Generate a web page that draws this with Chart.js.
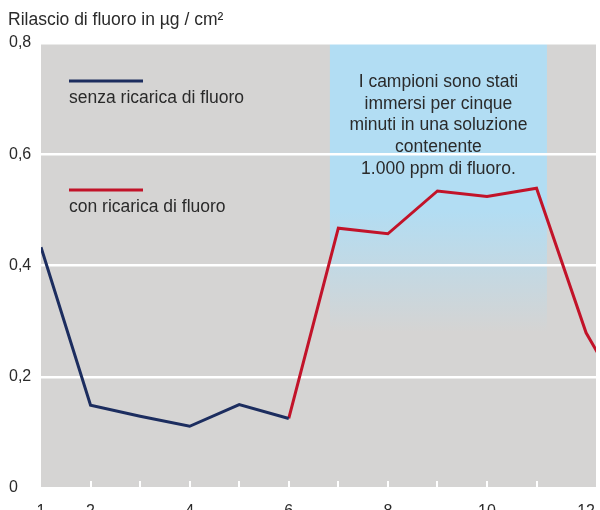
<!DOCTYPE html>
<html>
<head>
<meta charset="utf-8">
<script src="https://cdn.jsdelivr.net/npm/chart.js@4.4.0/dist/chart.umd.min.js"></script>
<style>
html,body{margin:0;padding:0;background:#fff;}
#wrap{width:600px;height:510px;position:relative;}
</style>
</head>
<body>
<div id="wrap"><canvas id="c" width="600" height="510"></canvas></div>
<script>
const titleText = 'Rilascio di fluoro in µg / cm²';
const seriesNames = ['senza ricarica di fluoro', 'con ricarica di fluoro'];
const xTickLabels = [1, 2, 4, 6, 8, 10, 12];
const xMinorTicks = [2, 3, 4, 5, 6, 7, 8, 9, 10, 11];
const senzaX = [1, 2, 3, 4, 5, 6];
const senzaY = [0.433, 0.149, 0.129, 0.111, 0.150, 0.125];
const conX = [6, 7, 8, 9, 10, 11, 12, 13];
const conY = [0.125, 0.467, 0.457, 0.534, 0.524, 0.539, 0.279, 0.125];
const noteLines = ['I campioni sono stati', 'immersi per cinque', 'minuti in una soluzione', 'contenente', '1.000 ppm di fluoro.'];
const shadeRange = [6.83, 11.21];

const FONT = "'Liberation Sans', Arial, sans-serif";
const GRAY = '#d5d4d3';
const BLUE = '#b2ddf3';
const NAVY = '#1c2d5f';
const RED = '#c21329';
const TXT = '#2a2a2a';

const decor = {
  id: 'decor',
  beforeDraw(chart) {
    const {ctx, chartArea: a, scales: {x, y}} = chart;
    ctx.save();
    ctx.fillStyle = GRAY;
    ctx.fillRect(a.left, a.top, a.right - a.left, a.bottom - a.top);
    const x0 = x.getPixelForValue(shadeRange[0]);
    const x1 = x.getPixelForValue(shadeRange[1]);
    const yTop = a.top;
    const yBot = y.getPixelForValue(0.28);
    const g = ctx.createLinearGradient(0, yTop, 0, yBot);
    const fadeStart = (y.getPixelForValue(0.5) - yTop) / (yBot - yTop);
    g.addColorStop(0, BLUE);
    g.addColorStop(fadeStart, BLUE);
    g.addColorStop(1, GRAY);
    ctx.fillStyle = g;
    ctx.fillRect(x0, yTop, x1 - x0, yBot - yTop);
    ctx.restore();
  },
  beforeDatasetsDraw(chart) {
    const {ctx, chartArea: a, scales: {x}} = chart;
    ctx.save();
    ctx.strokeStyle = '#ffffff';
    ctx.lineWidth = 2;
    xMinorTicks.forEach(v => {
      const px = Math.round(x.getPixelForValue(v));
      ctx.beginPath();
      ctx.moveTo(px, a.bottom);
      ctx.lineTo(px, a.bottom - 7);
      ctx.stroke();
    });
    ctx.fillStyle = TXT;
    ctx.font = '17.5px ' + FONT;
    ctx.textAlign = 'center';
    ctx.textBaseline = 'middle';
    const cx = (x.getPixelForValue(shadeRange[0]) + x.getPixelForValue(shadeRange[1])) / 2;
    noteLines.forEach((l, i) => ctx.fillText(l, cx, 82 + i * 21.8));
    ctx.restore();
  },
  afterDraw(chart) {
    const {ctx} = chart;
    ctx.save();
    ctx.fillStyle = TXT;
    ctx.font = '17.5px ' + FONT;
    ctx.textAlign = 'left';
    ctx.textBaseline = 'middle';
    ctx.fillText(titleText, 8, 20);
    const items = [[NAVY, 81, 98], [RED, 190, 207]];
    items.forEach((it, i) => {
      ctx.strokeStyle = it[0];
      ctx.lineWidth = 3;
      ctx.beginPath();
      ctx.moveTo(69, it[1]);
      ctx.lineTo(143, it[1]);
      ctx.stroke();
      ctx.fillStyle = TXT;
      ctx.fillText(seriesNames[i], 69, it[2]);
    });
    ctx.restore();
  }
};

new Chart(document.getElementById('c'), {
  type: 'line',
  data: {
    datasets: [
      {label: seriesNames[0], data: senzaX.map((v, i) => ({x: v, y: senzaY[i]})), borderColor: NAVY, borderWidth: 3, pointRadius: 0, tension: 0},
      {label: seriesNames[1], data: conX.map((v, i) => ({x: v, y: conY[i]})), borderColor: RED, borderWidth: 3, pointRadius: 0, tension: 0}
    ]
  },
  options: {
    responsive: false,
    animation: false,
    layout: {padding: {top: 43, left: 9, right: 4, bottom: 0}},
    plugins: {legend: {display: false}, tooltip: {enabled: false}},
    scales: {
      x: {
        type: 'linear', min: 1, max: 12.2,
        grid: {display: false},
        border: {display: false},
        afterBuildTicks: s => { s.ticks = xTickLabels.map(v => ({value: v})); },
        afterFit: s => { s.height = 22; s.paddingLeft = 0; s.paddingRight = 0; },
        ticks: {font: {family: FONT, size: 16}, color: TXT, padding: 6, maxRotation: 0, autoSkip: false}
      },
      y: {
        min: 0, max: 0.8,
        grid: {color: '#ffffff', lineWidth: 2.5, drawTicks: false},
        border: {display: false},
        afterFit: s => { s.width = 32; s.paddingTop = 0; s.paddingBottom = 0; },
        ticks: {stepSize: 0.2, font: {family: FONT, size: 16}, color: TXT, crossAlign: 'far', padding: 0,
          callback: v => Math.abs(v) < 1e-9 ? '0' : v.toFixed(1).replace('.', ',')}
      }
    }
  },
  plugins: [decor]
});
</script>
</body>
</html>
